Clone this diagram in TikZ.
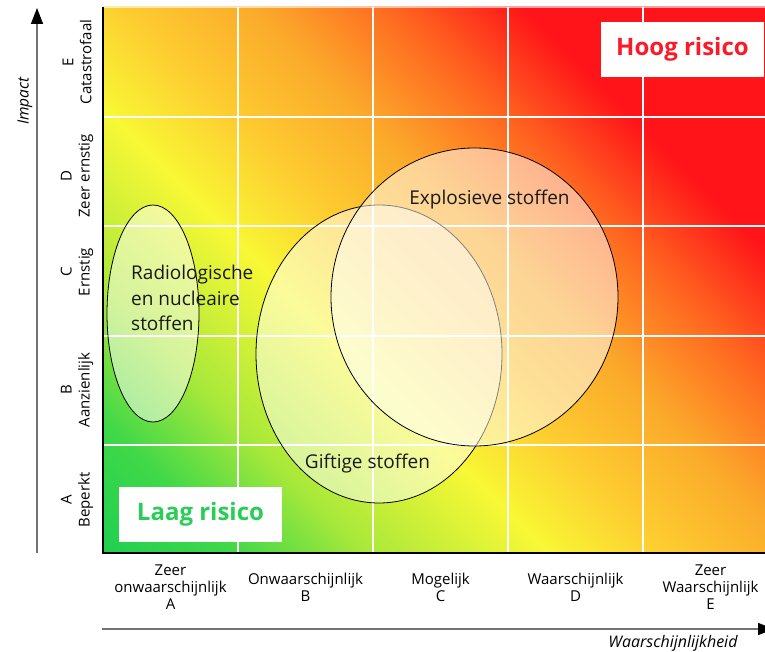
\documentclass[tikz,border=0pt]{standalone}
\usepackage{fontspec}
\setmainfont{Open Sans}
\usetikzlibrary{shapes.geometric,arrows.meta}

\definecolor{riskgreen}{RGB}{32,208,80}
\definecolor{riskyellow}{RGB}{248,248,53}
\definecolor{riskred}{RGB}{255,20,25}
\definecolor{hoogtekst}{RGB}{250,26,40}
\definecolor{laagtekst}{RGB}{40,206,86}

\pgfdeclarehorizontalshading{riskshading}{100bp}{%
  color(0bp)=(riskgreen); color(14.6bp)=(riskgreen);
  color(21.2bp)=(rgb,255:red,64;green,216;blue,72);
  color(27.8bp)=(rgb,255:red,168;green,232;blue,58);
  color(37bp)=(riskyellow);
  color(43.4bp)=(rgb,255:red,253;green,203;blue,48);
  color(50bp)=(rgb,255:red,251;green,169;blue,43);
  color(57bp)=(rgb,255:red,255;green,101;blue,32);
  color(63.5bp)=(riskred); color(100bp)=(riskred)}

\begin{document}
\begin{tikzpicture}[x=1pt, y=-1pt,
    gridline/.style={white, line width=1.2pt},
    stofzone/.style={ellipse, draw=black, line width=0.8pt, fill=white, fill opacity=0.5, inner sep=0pt},
    stoflabel/.style={inner sep=0pt, align=left, text=black!90, font=\fontsize{19}{25.5}\selectfont},
    rijlabel/.style={rotate=90, align=center, font=\fontsize{15}{18}\selectfont},
    kolomlabel/.style={align=center, font=\fontsize{15}{17}\selectfont},
    risicobox/.style={fill=white, minimum width=163pt, minimum height=55pt, font=\fontsize{24}{26}\selectfont\bfseries},
    asline/.style={draw=black!55, line width=1.5pt, -{Triangle[length=16pt, width=12pt, color=black]}}]
  \useasboundingbox (0,0) rectangle (765,652);

  % kleurverloop van laag naar hoog risico
  \begin{scope}
    \clip (103,7) rectangle (765,553);
    \shade[shading=riskshading, shading angle=45] (103,553) rectangle (803,-147);
  \end{scope}
  \foreach \gx in {238,373,508,643}
    \draw[gridline] (\gx,7) -- (\gx,553);
  \foreach \gy in {117,226,336,445}
    \draw[gridline] (103,\gy) -- (765,\gy);
  \draw[white, opacity=0.6, line width=1.2pt] (103,7) -- (765,7);
  \draw[line width=2pt] (103,7) -- (103,553) -- (765,553);

  % stoffen
  \node[stofzone, minimum width=92pt, minimum height=217pt] (radio) at (153,313.5) {};
  \node[stofzone, minimum width=246pt, minimum height=298pt] (giftig) at (379,354) {};
  \node[stofzone, minimum width=287pt, minimum height=298pt] (explosief) at (474.5,297) {};
  \node[stoflabel, anchor=west] (radiotekst) at (131,298) {Radiologische\\en nucleaire\\stoffen};
  \node[stoflabel] (gifttekst) at (367.5,464) {Giftige stoffen};
  \node[stoflabel] (explotekst) at (489.5,200) {Explosieve stoffen};

  \node[risicobox, text=hoogtekst] (hoog) at (682.5,49.5) {Hoog risico};
  \node[risicobox, text=laagtekst] (laag) at (200.5,514.5) {Laag risico};

  % assen
  \coordinate (yonder) at (37,553);
  \coordinate (yboven) at (37,8);
  \draw[asline] (yonder) -- (yboven);
  \coordinate (xlinks) at (102,629);
  \coordinate (xrechts) at (774,629);
  \draw[asline] (xlinks) -- (xrechts);
  \node[rotate=90, font=\fontsize{15.5}{18}\selectfont\itshape] (impact) at (25,101) {Impact};
  \node[font=\fontsize{16}{18}\selectfont\itshape] (kans) at (673,643) {Waarschijnlijkheid};

  \foreach \ry/\letter/\woord in {62/E/Catastrofaal, 176/D/Zeer ernstig, 272/C/Ernstig,
                                  390/B/Aanzienlijk, 500/A/Beperkt}
    \node[rijlabel] (rij-\letter) at (77,\ry) {\letter\\\woord};

  \foreach \kx/\letter/\tekst in {170.5/A/{Zeer\\onwaarschijnlijk}, 305.5/B/{Onwaarschijnlijk},
                                  440.5/C/{Mogelijk}, 575.5/D/{Waarschijnlijk},
                                  710.5/E/{Zeer\\Waarschijnlijk}}
    \node[kolomlabel] (kolom-\letter) at (\kx,587) {\tekst\\\letter};
\end{tikzpicture}
\end{document}
